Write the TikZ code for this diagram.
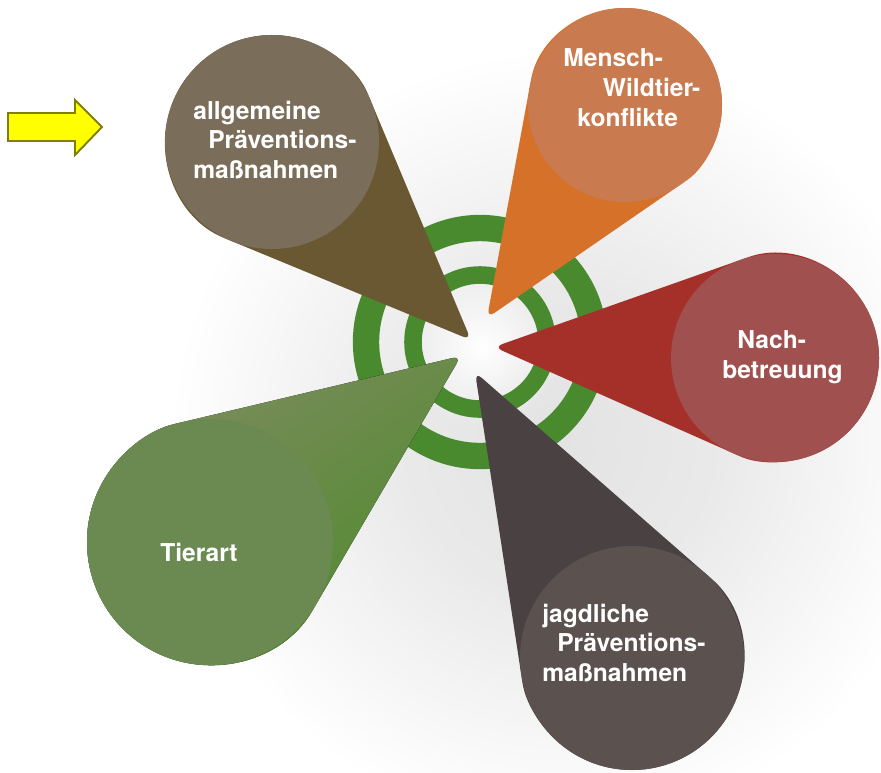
\documentclass[tikz,border=0pt]{standalone}
\usepackage{fontspec}
\setmainfont{TeX Gyre Heros}
\usetikzlibrary{calc,fadings}

\definecolor{ringgreen}{HTML}{4A8A2E}
\definecolor{allgbody}{HTML}{6A5833}
\definecolor{allgface}{HTML}{7A6D5A}
\definecolor{menschbody}{HTML}{D6712A}
\definecolor{menschface}{HTML}{C97A4F}
\definecolor{nachbody}{HTML}{A5302A}
\definecolor{nachface}{HTML}{A0504E}
\definecolor{jagdbody}{HTML}{4A4242}
\definecolor{jagdface}{HTML}{5B5250}
\definecolor{tierbody}{HTML}{4F8A2C}
\definecolor{tierlight}{HTML}{7E8C60}
\definecolor{tierface}{HTML}{6A8A52}
\definecolor{pointerfill}{HTML}{FFFF00}
\definecolor{pointerdraw}{HTML}{808000}

\pgfdeclareradialshading{glow}{\pgfpoint{0bp}{0bp}}{color(0bp)=(gray!22); color(10bp)=(gray!17); color(25bp)=(white); color(50bp)=(white)}
\tikzfading[name=glowfade, inner color=transparent!0, outer color=transparent!100]

% tip x, tip y, centre x, centre y, radius, body style, face colour
\newcommand{\drawpetal}[7]{%
  \pgfmathsetmacro{\pdx}{(#1-#3)/100}
  \pgfmathsetmacro{\pdy}{(#2-#4)/100}
  \pgfmathsetmacro{\pdist}{100*sqrt(\pdx*\pdx+\pdy*\pdy)}
  \pgfmathsetmacro{\ptheta}{atan2(\pdy,\pdx)}
  \pgfmathsetmacro{\pbeta}{acos(#5/\pdist)}
  \fill[#6, rounded corners=5pt] (#1,#2) -- ($(#3,#4)+(\ptheta+\pbeta:#5)$)
    arc[start angle=\ptheta+\pbeta, end angle=\ptheta-\pbeta+360, radius=#5] -- cycle;
  \fill[#7] (#3,#4) circle[radius=#5];
}

\begin{document}
\begin{tikzpicture}[x=0.02cm, y=-0.02cm]
  % Define styles
  \tikzset{
    lbl/.style={text=white, font=\fontsize{14}{17}\selectfont\bfseries, align=left, anchor=west, inner sep=0pt},
    ring/.style={draw=ringgreen}
  }

  \clip (0,0) rectangle (881,772);

  % Background shadow and glow
  \shade[shading=glow] (560,440) circle (390);
  \fill[white, path fading=glowfade] (482,348) circle (80);

  % Target rings
  \draw[ring, line width=15pt] (480,342) circle (114);
  \draw[ring, line width=10pt] (480,342) circle (67);

  % Cones
  \drawpetal{471}{340}{272}{142}{107}{allgbody}{allgface}
  \drawpetal{487}{318}{625}{105}{97}{menschbody}{menschface}
  \drawpetal{494}{347}{775}{358}{104}{nachbody}{nachface}
  \drawpetal{475}{372}{632}{658}{112}{jagdbody}{jagdface}
  \drawpetal{461}{356}{210}{542}{123}{top color=tierlight, bottom color=tierbody, shading angle=35}{tierface}

  % Labels
  \node[lbl] (allg) at (193,140) {allgemeine\\\hspace*{8.5pt}Präventions-\\maßnahmen};
  \node[lbl] (mensch) at (563,88) {Mensch-\\\hspace*{22.5pt}Wildtier-\\\hspace*{8pt}konflikte};
  \node[lbl] (nach) at (722,357) {\hspace*{8.5pt}Nach-\\betreuung};
  \node[lbl] (jagd) at (542,643) {jagdliche\\\hspace*{8.5pt}Präventions-\\maßnahmen};
  \node[lbl] (tier) at (160,552) {Tierart};

  % Yellow pointer
  \draw[fill=pointerfill, draw=pointerdraw, line width=1.1pt]
    (8,113) -- (75,113) -- (75,100) -- (102,127) -- (75,155) -- (75,141) -- (8,141) -- cycle;
\end{tikzpicture}
\end{document}
